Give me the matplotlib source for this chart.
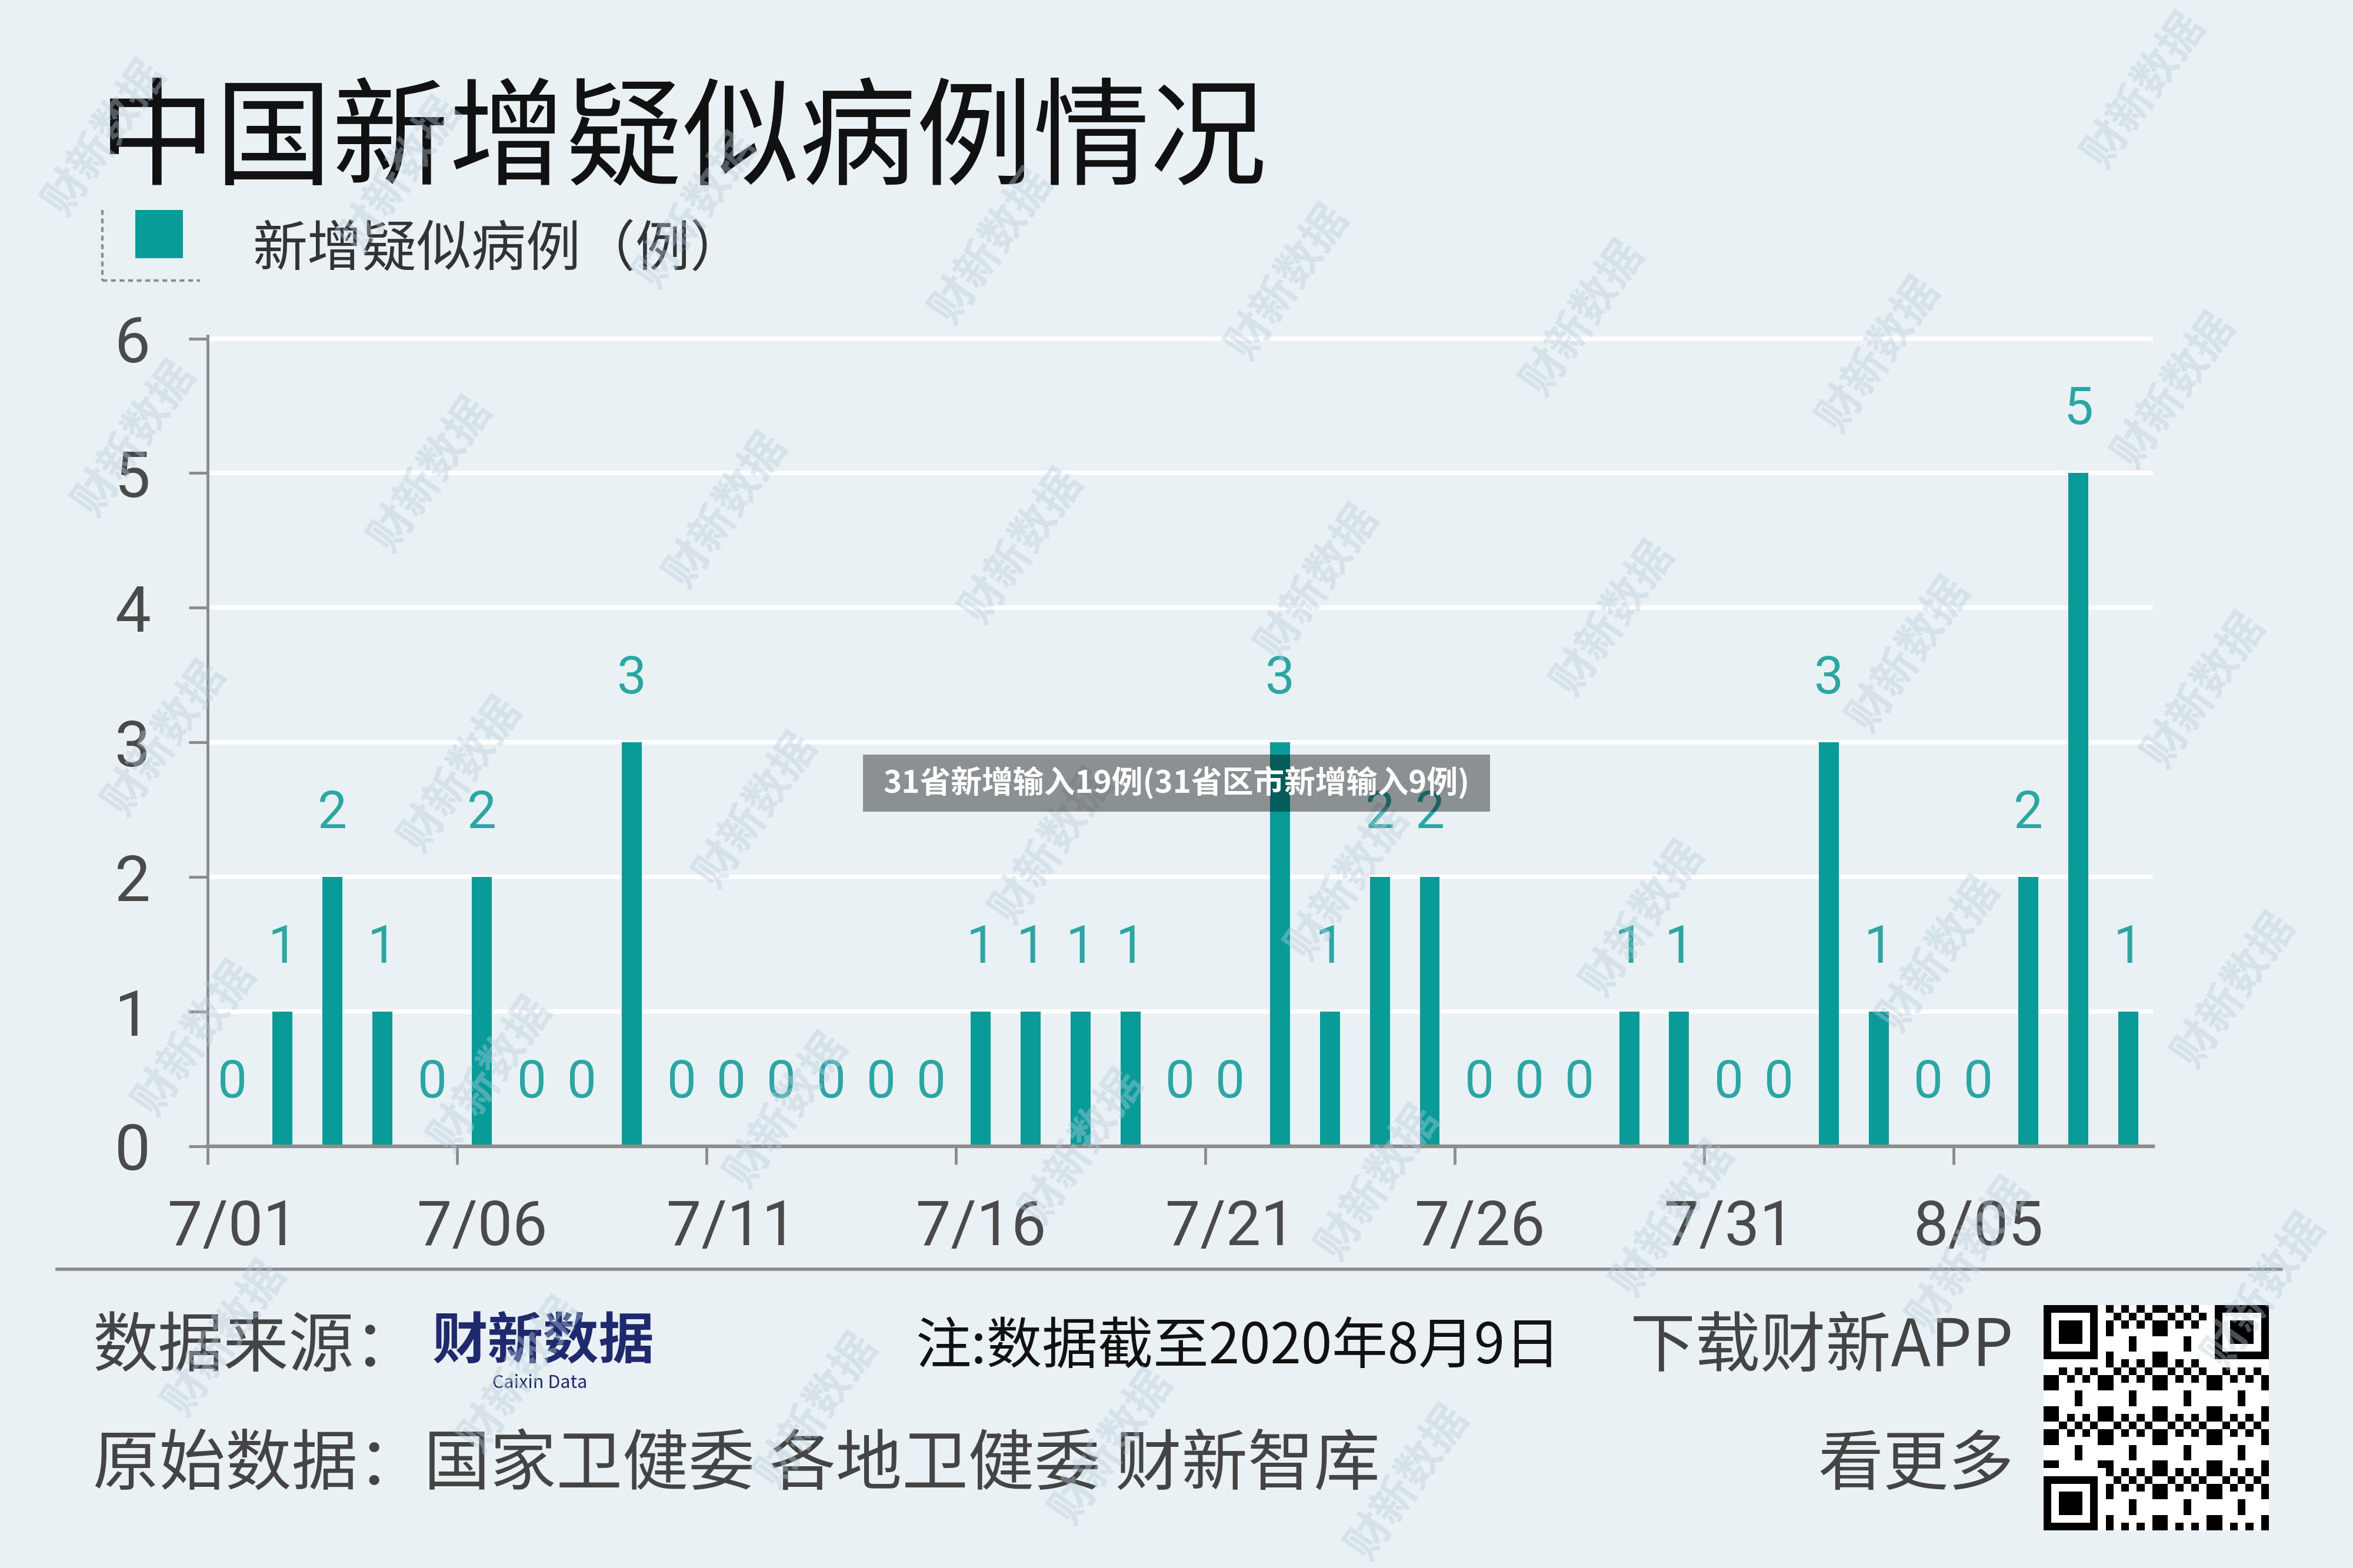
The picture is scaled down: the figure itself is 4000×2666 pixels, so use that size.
import numpy as np
import pandas as pd
import matplotlib.pyplot as plt
from matplotlib.patches import Rectangle
from matplotlib.lines import Line2D

plt.rcParams['font.family'] = ['Noto Sans CJK SC', 'DejaVu Sans']

# daily new suspected cases, 7/01 .. 8/08
values = [0, 1, 2, 1, 0, 2, 0, 0, 3, 0, 0, 0, 0, 0, 0, 1, 1, 1, 1, 0,
          0, 3, 1, 2, 2, 0, 0, 0, 1, 1, 0, 0, 3, 1, 0, 0, 2, 5, 1]
days = pd.date_range('2020-07-01', periods=len(values))
tick_labels = ['7/01', '7/06', '7/11', '7/16', '7/21', '7/26', '7/31', '8/05']
y_ticks = [0, 1, 2, 3, 4, 5, 6]

title = '中国新增疑似病例情况'
legend_label = '新增疑似病例（例）'
overlay = '31省新增输入19例(31省区市新增输入9例)'

bg = '#e9f1f4'
teal = '#089b98'
label_teal = '#2aa6a3'
gray = '#8c8c8c'
num_font = ['Roboto']
W, H = 4000, 2666


def fx(px):
    return px / W


def fy(py):
    return 1 - py / H


fig = plt.figure(figsize=(40, 26.66), dpi=100, facecolor=bg)
ax = fig.add_axes([fx(353), fy(1949), fx(3660 - 353), (1949 - 571) / H])
ax.set_facecolor(bg)

x = np.arange(len(values))
ax.bar(x, values, width=0.4, color=teal, zorder=3)
for xi, v in zip(x, values):
    ax.text(xi, v + 0.47, str(v), ha='center', va='center', fontsize=64,
            color=label_teal, family=num_font, zorder=4)

ax.set_xlim(-0.5, len(values) - 0.5)
ax.set_ylim(0, 6.02)

# major ticks on day boundaries, labels under day centres
ax.set_xticks(np.arange(-0.5, len(values), 5))
ax.set_xticklabels([])
ax.set_xticks(np.arange(0, len(values), 5), minor=True)
ax.set_xticklabels(tick_labels, minor=True)
ax.tick_params(axis='x', which='major', direction='out', length=22, width=3.5, color=gray)
ax.tick_params(axis='x', which='minor', length=0, pad=64, labelsize=76, labelcolor='#4a4a4a')
for lab in ax.get_xticklabels(minor=True):
    lab.set_family(num_font)

ax.set_yticks(y_ticks)
ax.set_yticklabels([str(t) for t in y_ticks])
ax.tick_params(axis='y', direction='out', length=23, width=3.5, color=gray,
               pad=47, labelsize=78, labelcolor='#4a4a4a')
for lab in ax.get_yticklabels():
    lab.set_family(num_font)

ax.grid(axis='y', color='white', linewidth=5.5)
ax.set_axisbelow(True)
for s in ['top', 'right']:
    ax.spines[s].set_visible(False)
ax.spines['left'].set_color(gray)
ax.spines['left'].set_linewidth(3.5)
ax.spines['bottom'].set_color(gray)
ax.spines['bottom'].set_linewidth(4.5)
ax.spines['bottom'].set_zorder(5)

# title and legend
fig.text(fx(168), fy(243), title, fontsize=143, color='#111111', ha='left', va='center')
fig.patches.append(Rectangle((fx(230), fy(439)), fx(81), 82 / H, transform=fig.transFigure,
                             facecolor=teal, edgecolor='none'))
fig.add_artist(Line2D([fx(174), fx(174)], [fy(357), fy(477)], color=gray, lw=3, ls=(0, (2, 1.5))))
fig.add_artist(Line2D([fx(174), fx(340)], [fy(477), fy(477)], color=gray, lw=3, ls=(0, (2, 1.5))))
fig.text(fx(429), fy(425), legend_label, fontsize=67, color='#333333', ha='left', va='center')

# footer
fig.add_artist(Line2D([fx(97), fx(3878)], [fy(2158), fy(2158)], color=gray, lw=4))
fig.text(fx(158), fy(2291), '数据来源：', fontsize=80, color='#444444', ha='left', va='center')
fig.text(fx(735), fy(2283), '财新数据', fontsize=68, color='#1f2a6e', ha='left', va='center',
         fontweight='heavy')
fig.text(fx(918), fy(2352), 'Caixin Data', fontsize=22, color='#1f2a6e', ha='center', va='center')
fig.text(fx(1556), fy(2291), '注:数据截至2020年8月9日', fontsize=68, color='#111111',
         ha='left', va='center')
fig.text(fx(3424), fy(2291), '下载财新APP', fontsize=80, color='#444444', ha='right', va='center')
fig.text(fx(158), fy(2492), '原始数据：国家卫健委 各地卫健委 财新智库', fontsize=81,
         color='#444444', ha='left', va='center')
fig.text(fx(3424), fy(2492), '看更多', fontsize=80, color='#444444', ha='right', va='center')

# QR code stand-in
n = 29
qr = np.zeros((n, n))
for i in range(n):
    for j in range(n):
        qr[i, j] = 1 if ((i * i * 3 + j * j * 5 + i * j * 7 + i + 2 * j) % 7) < 3 else 0
for (r, c) in [(0, 0), (0, n - 7), (n - 7, 0)]:
    qr[max(r - 1, 0):r + 8, max(c - 1, 0):c + 8] = 0
    qr[r:r + 7, c:c + 7] = 1
    qr[r + 1:r + 6, c + 1:c + 6] = 0
    qr[r + 2:r + 5, c + 2:c + 5] = 1
qax = fig.add_axes([fx(3474), fy(2602), fx(383), 383 / H])
qax.imshow(qr, cmap='Greys', interpolation='nearest')
qax.axis('off')

# watermark
for j in range(-2, 5):
    for i in range(-1, 9):
        px = (90 + 197 * i + 20 * j) * 2.551
        py = (292 + 24 * i + 200 * j) * 2.551
        if 0 < px < W and 100 < py < H - 100:
            fig.text(fx(px), fy(py), '财新数据', fontsize=54, color='#b9cddd', alpha=0.4,
                     rotation=55, ha='center', va='center', fontweight='bold', zorder=10)

# overlay caption box
fig.patches.append(Rectangle((fx(1467), fy(1380)), fx(1066), 97 / H, transform=fig.transFigure,
                             facecolor='black', alpha=0.4, edgecolor='none', zorder=11))
fig.text(fx(2000), fy(1331), overlay, fontsize=38, color='white', fontweight='bold',
         ha='center', va='center', zorder=12)

plt.savefig('out.png', dpi=100, facecolor=bg)
